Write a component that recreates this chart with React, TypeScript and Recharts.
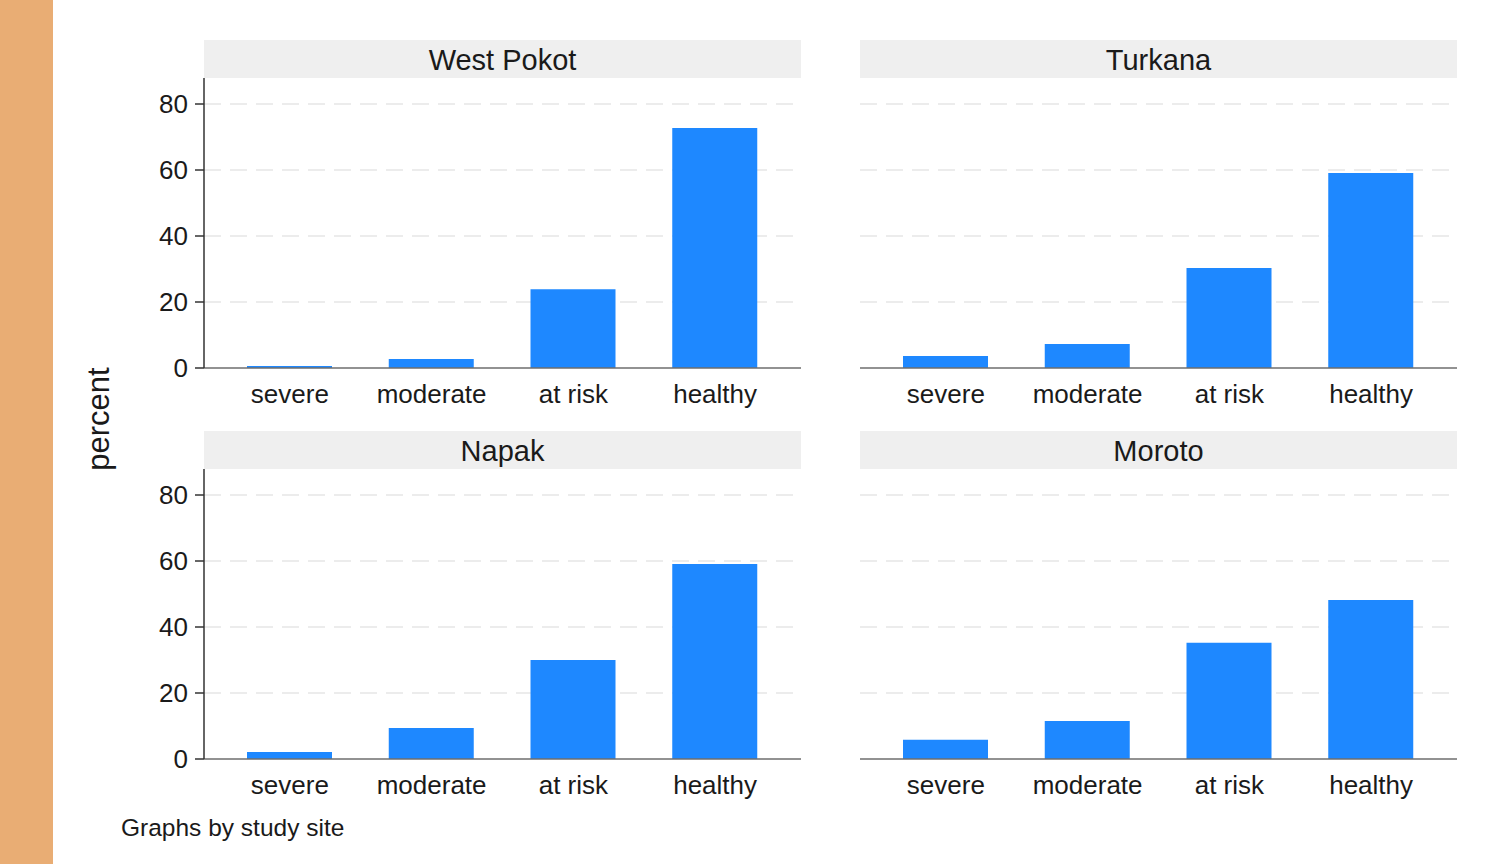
import React from "react";
import { BarChart, Bar, XAxis, YAxis, CartesianGrid } from "recharts";

const categories = ["severe", "moderate", "at risk", "healthy"];
const sites = ["West Pokot", "Turkana", "Napak", "Moroto"];
const westPokot = [0.6, 2.7, 23.9, 72.7];
const turkana = [3.6, 7.3, 30.3, 59.1];
const napak = [2.1, 9.4, 30.0, 59.1];
const moroto = [5.8, 11.5, 35.2, 48.2];
const yTicks = [0, 20, 40, 60, 80];
const gridValues = [20, 40, 60, 80];

const seriesBySite = [westPokot, turkana, napak, moroto];
const FONT = "'Liberation Sans', Arial, Helvetica, sans-serif";
const BAR = "#1e88ff";
const AXIS = "#6e6e6e";

function Panel({ title, values, left, top, showY }: { title: string; values: number[]; left: number; top: number; showY: boolean }) {
  const data = categories.map((c, i) => ({ cat: c, v: values[i] }));
  const plotLeft = left;
  const plotWidth = 597;
  const yW = 70;
  const chartLeft = plotLeft - yW;
  return (
    <>
      <div
        style={{
          position: "absolute",
          left: plotLeft,
          top: top - 38,
          width: plotWidth,
          height: 38,
          background: "#efefef",
          fontFamily: FONT,
          fontSize: 29,
          color: "#1a1a1a",
          display: "flex",
          alignItems: "center",
          justifyContent: "center",
          lineHeight: "38px",
          paddingTop: 2,
          boxSizing: "border-box",
          zIndex: 2,
        }}
      >
        {title}
      </div>
      <div style={{ position: "absolute", left: chartLeft, top: top - 8 }}>
        <BarChart
          width={yW + plotWidth}
          height={8 + 290 + 50}
          data={data}
          margin={{ top: 8, right: 0, left: 0, bottom: 10 }}
          barSize={85}
        >
          <CartesianGrid
            horizontal
            vertical={false}
            stroke="#e6e6e6"
            strokeWidth={1.5}
            strokeDasharray="17 9"
            horizontalValues={gridValues}
          />
          <XAxis
            dataKey="cat"
            axisLine={{ stroke: AXIS, strokeWidth: 1.5 }}
            tickLine={false}
            tick={{ fill: "#1a1a1a", fontSize: 26, fontFamily: FONT }}
            tickMargin={11}
            padding={{ left: 15, right: 15 }}
            height={40}
            interval={0}
          />
          <YAxis
            domain={[0, 87.88]}
            ticks={yTicks}
            width={yW}
            axisLine={showY ? { stroke: "#333", strokeWidth: 1.5 } : false}
            tickLine={showY ? { stroke: "#333", strokeWidth: 1.5 } : false}
            tickSize={9}
            tickMargin={7}
            tick={{ fill: showY ? "#1a1a1a" : "transparent", fontSize: 26, fontFamily: FONT }}
            allowDataOverflow
          />
          <Bar dataKey="v" fill={BAR} isAnimationActive={false} />
        </BarChart>
      </div>
    </>
  );
}

export default function App() {
  return (
    <div style={{ position: "absolute", left: 0, top: 0, width: 1487, height: 864, background: "#ffffff", overflow: "hidden" }}>
      <div style={{ position: "absolute", left: 0, top: 0, width: 53, height: 864, background: "#e9ad74" }} />
      <Panel title={sites[0]} values={seriesBySite[0]} left={204} top={78} showY />
      <Panel title={sites[1]} values={seriesBySite[1]} left={860} top={78} showY={false} />
      <Panel title={sites[2]} values={seriesBySite[2]} left={204} top={469} showY />
      <Panel title={sites[3]} values={seriesBySite[3]} left={860} top={469} showY={false} />
      <div
        style={{
          position: "absolute",
          left: 99,
          top: 419,
          transform: "translate(-50%, -50%) rotate(-90deg)",
          fontFamily: FONT,
          fontSize: 31,
          color: "#1a1a1a",
          whiteSpace: "nowrap",
        }}
      >
        percent
      </div>
      <div
        style={{
          position: "absolute",
          left: 121,
          top: 814,
          fontFamily: FONT,
          fontSize: 24.5,
          color: "#1a1a1a",
          whiteSpace: "nowrap",
        }}
      >
        Graphs by study site
      </div>
    </div>
  );
}
